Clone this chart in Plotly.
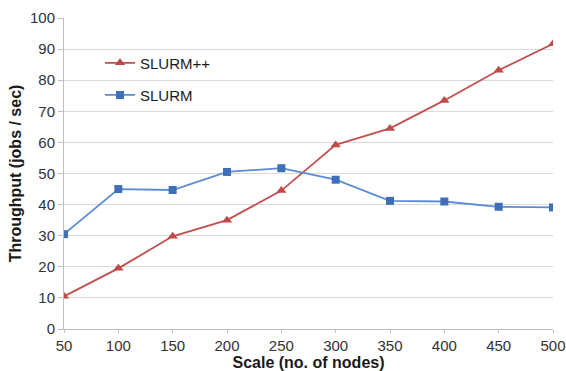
import plotly.graph_objects as go

scale = [50, 100, 150, 200, 250, 300, 350, 400, 450, 500]
slurm_pp = [10.5, 19.5, 29.8, 35.0, 44.5, 59.2, 64.5, 73.5, 83.2, 91.7]
slurm = [30.5, 45.0, 44.7, 50.5, 51.7, 48.0, 41.2, 41.0, 39.3, 39.1]

fig = go.Figure()
fig.add_trace(go.Scatter(x=scale, y=slurm_pp, name="SLURM++", mode="lines+markers",
                         legend="legend",
                         line=dict(color="#C0504D", width=1.8),
                         marker=dict(symbol="triangle-up", size=9, color="#BE4B48")))
fig.add_trace(go.Scatter(x=scale, y=slurm, name="SLURM", mode="lines+markers",
                         legend="legend2",
                         line=dict(color="#5A8BD3", width=1.8),
                         marker=dict(symbol="square", size=8, color="#3F6FB6")))

legfont = dict(family="Liberation Sans, Arial, sans-serif", size=15, color="#1a1a1a")
fig.update_layout(
    width=566, height=371,
    margin=dict(l=64, r=13, t=18, b=42),
    paper_bgcolor="white", plot_bgcolor="white",
    font=dict(family="Liberation Sans, Arial, sans-serif", size=15, color="#333333"),
    legend=dict(x=0.0736, y=0.855, xanchor="left", yanchor="middle", bgcolor="rgba(0,0,0,0)",
                font=legfont, itemwidth=30),
    legend2=dict(x=0.0736, y=0.752, xanchor="left", yanchor="middle", bgcolor="rgba(0,0,0,0)",
                 font=legfont, itemwidth=30),
    showlegend=True,
)
fig.update_xaxes(range=[50, 500], tickvals=scale, showgrid=False, automargin=False,
                 showline=True, linecolor="#BFBFBF", linewidth=1,
                 ticks="outside", ticklen=3, tickcolor="#BFBFBF",
                 ticklabeloverflow="allow",
                 zeroline=False, tickfont=dict(size=15, color="#333333"),
                 title=dict(text="<b>Scale (no. of nodes)</b>",
                            font=dict(size=16, color="#1a1a1a"), standoff=1))
fig.update_yaxes(range=[0, 100], dtick=10, showgrid=True, gridcolor="#D9D9D9", gridwidth=1,
                 automargin=False,
                 showline=True, linecolor="#BFBFBF", linewidth=1,
                 ticks="outside", ticklen=5, tickcolor="#BFBFBF",
                 zeroline=False, tickfont=dict(size=15, color="#333333"),
                 title=dict(text="<b>Throughput (jobs / sec)</b>",
                            font=dict(size=16, color="#1a1a1a"), standoff=4))

# remove the default 8px page margin so the 566x371 figure fills the window exactly
fig.write_html("out.html", config={"displayModeBar": False},
               post_script="document.body.style.margin='0';document.body.style.overflow='hidden';")
